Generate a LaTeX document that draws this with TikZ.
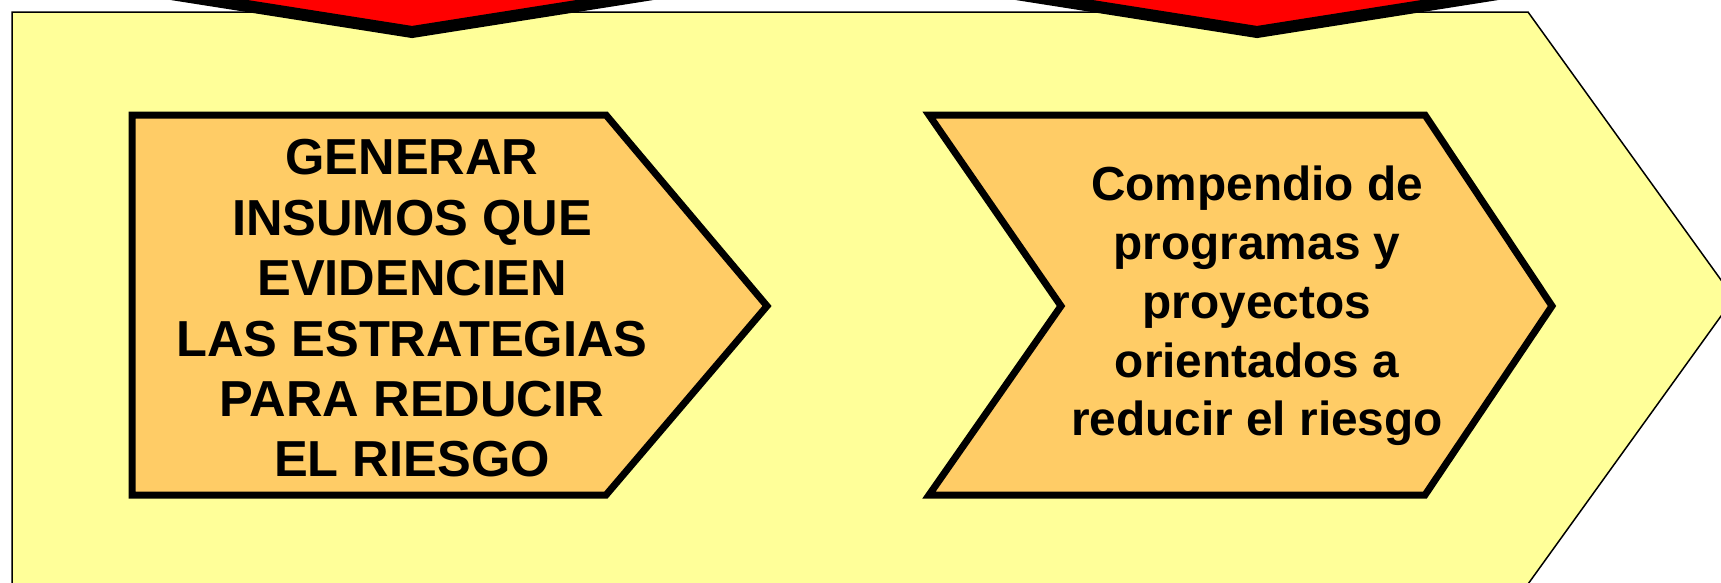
\documentclass[tikz,border=0pt]{standalone}
\usepackage{fontspec}
\setmainfont{Liberation Sans}
\begin{document}
\begin{tikzpicture}[x=1pt,y=-1pt,
  bigarrow/.style={draw=black,line width=1.5pt,fill=yellowbg,line join=miter},
  redtip/.style={draw=black,line width=12pt,fill=red,line join=miter},
  stepshape/.style={draw=black,line width=7pt,fill=orangebox,line join=miter},
  lbl/.style={align=center,inner sep=0pt,font=\bfseries\fontsize{50.6}{60.4}\selectfont},
  lbltwo/.style={align=center,inner sep=0pt,font=\bfseries\fontsize{47.8}{58.8}\selectfont}]
\definecolor{yellowbg}{HTML}{FFFF99}
\definecolor{orangebox}{HTML}{FFCC66}
\useasboundingbox (0,0) rectangle (1721,582);
% large yellow pentagon
\draw[bigarrow] (12,12) -- (1528,12) -- (1734,298) -- (1516.5,600) -- (12,600) -- cycle;
% red chevron tips at the top
\draw[redtip] (412,32) -- (100,-17.2) -- (100,-120) -- (724,-120) -- (724,-17.2) -- cycle;
\draw[redtip] (1257,32) -- (945,-17.2) -- (945,-120) -- (1569,-120) -- (1569,-17.2) -- cycle;
% orange step shapes
\draw[stepshape] (132,115) -- (606,115) -- (767,306) -- (606,495) -- (132,495) -- cycle;
\draw[stepshape] (929,115) -- (1425,115) -- (1552,306) -- (1425,495) -- (929,495) -- (1061,306) -- cycle;
% texts
\node[lbl] (t1) at (412,308.5) {GENERAR\\INSUMOS QUE\\EVIDENCIEN\\LAS ESTRATEGIAS\\PARA REDUCIR\\EL RIESGO};
\node[lbltwo] (t2) at (1257,306) {Compendio de\\programas y\\proyectos\\orientados a\\reducir el riesgo};
\end{tikzpicture}
\end{document}
